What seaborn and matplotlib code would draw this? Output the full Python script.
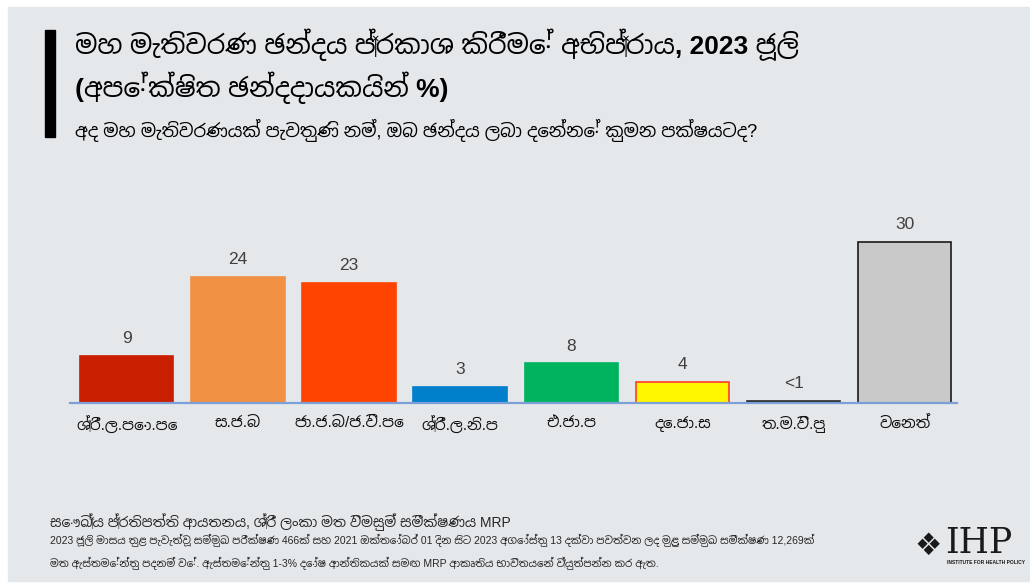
import pandas as pd
import matplotlib
matplotlib.use("Agg")
import matplotlib.pyplot as plt
import seaborn as sns
from matplotlib import font_manager

# data
parties = ["ශ්‍රී.ල.පො.පෙ", "ස.ජ.බ", "ජා.ජ.බ/ජ.වි.පෙ", "ශ්‍රී.ල.නි.ප",
           "එ.ජා.ප", "දෙ.ජා.ස", "ත.ම.වි.පු", "වෙනත්"]
shares = [8.8, 23.5, 22.4, 3.0, 7.4, 3.9, 0.4, 30.0]
share_labels = ["9", "24", "23", "3", "8", "4", "<1", "30"]
bar_colors = ["#C91E00", "#F09143", "#FF4300", "#0080CB", "#00B45F",
              "#FFF700", "#2B2B2B", "#C9C9C9"]
edge_colors = ["#C91E00", "#F09143", "#FF4300", "#0080CB", "#00B45F",
               "#FF3B2F", "#2B2B2B", "#1A1A1A"]

title_lines = ["මහ මැතිවරණ ඡන්දය ප්‍රකාශ කිරීමේ අභිප්‍රාය, 2023 ජූලි",
               "(අපේක්ෂිත ඡන්දදායකයින් %)"]
subtitle = "අද මහ මැතිවරණයක් පැවතුණි නම්, ඔබ ඡන්දය ලබා දෙන්නේ කුමන පක්ෂයටද?"
source = "සෞඛ්‍ය ප්‍රතිපත්ති ආයතනය, ශ්‍රී ලංකා මත විමසුම් සමීක්ෂණය MRP"
note1 = ("2023 ජූලි මාසය තුළ පැවැත්වූ සම්මුඛ පරීක්ෂණ 466ක් සහ 2021 ඔක්තෝබර් 01 දින සිට "
         "2023 අගෝස්තු 13 දක්වා පවත්වන ලද මුළු සම්මුඛ සමීක්ෂණ 12,269ක්")
note2 = ("මත ඇස්තමේන්තු පදනම් වේ. ඇස්තමේන්තු 1-3% දෝෂ ආන්තිකයක් සමඟ MRP "
         "ආකෘතිය භාවිතයෙන් ව්‍යුත්පන්න කර ඇත.")

df = pd.DataFrame({"party": parties, "share": shares})

sns.set_theme(style="white")

# Latin text in an Arial-like face, Sinhala from whatever Sinhala font exists
sinhala = sorted({f.name for f in font_manager.fontManager.ttflist
                  if "sinhala" in f.name.lower()},
                 key=lambda n: 0 if "sans" in n.lower() else 1)
fams = ["Liberation Sans"] + sinhala + ["DejaVu Sans"]
plt.rcParams["font.family"] = fams

bg = "#E5E8EB"
fig = plt.figure(figsize=(10.3, 5.88), dpi=100)
fig.patch.set_facecolor("white")
fig.patches.append(plt.Rectangle((8 / 1030, 7 / 588), 1.0, 574 / 588,
                                 transform=fig.transFigure, color=bg, zorder=-5))

ax = fig.add_axes([70 / 1030, 1 - 403 / 588, 887 / 1030, 188 / 588])
ax.set_facecolor("none")
ax.set_zorder(2)

sns.barplot(data=df, x="party", y="share", hue="party", palette=bar_colors,
            legend=False, width=0.84, saturation=1, ax=ax)

for bar, ec in zip(ax.patches, edge_colors):
    bar.set_edgecolor(ec)
    bar.set_linewidth(1.2)

for bar, lab in zip(ax.patches, share_labels):
    ax.text(bar.get_x() + bar.get_width() / 2, bar.get_height() + 1.8, lab,
            ha="center", va="bottom", fontsize=12.5, color="#404040")

ax.set_ylim(0, 35)
ax.set_xlim(-0.51, 7.47)
ax.set_yticks([])
ax.set_xlabel("")
ax.set_ylabel("")
for s in ["top", "right", "left"]:
    ax.spines[s].set_visible(False)
ax.spines["bottom"].set_color("#7C9FD8")
ax.spines["bottom"].set_linewidth(1.6)
ax.tick_params(axis="x", length=0, pad=9, labelsize=11, labelcolor="#111111")

# title block
fig.patches.append(plt.Rectangle((45 / 1030, 1 - 137 / 588), 10 / 1030, 107 / 588,
                                 transform=fig.transFigure, color="black", zorder=3))
fig.text(75 / 1030, 1 - 45 / 588, title_lines[0], fontsize=19, fontweight="bold",
         va="center", ha="left", color="black")
fig.text(75 / 1030, 1 - 88 / 588, title_lines[1], fontsize=19, fontweight="bold",
         va="center", ha="left", color="black")
fig.text(75 / 1030, 1 - 130 / 588, subtitle, fontsize=13,
         va="center", ha="left", color="black")

# footer
fig.text(50 / 1030, 1 - 522 / 588, source, fontsize=10, va="center", ha="left")
fig.text(50 / 1030, 1 - 540 / 588, note1, fontsize=7.5, va="center", ha="left")
fig.text(50 / 1030, 1 - 563 / 588, note2, fontsize=7.5, va="center", ha="left")

# logo
fig.text(928 / 1030, 1 - 546 / 588, "❖", fontsize=22, va="center", ha="center",
         family="DejaVu Sans", color="#1A1A1A")
fig.text(945 / 1030, 1 - 543 / 588, "IHP", fontsize=25, va="center", ha="left",
         family="DejaVu Serif", color="#1A1A1A")
fig.text(947 / 1030, 1 - 563 / 588, "INSTITUTE FOR HEALTH POLICY", fontsize=3.5,
         va="center", ha="left", fontweight="bold", color="#1A1A1A")

fig.savefig("out.png", dpi=100, facecolor=fig.get_facecolor())
